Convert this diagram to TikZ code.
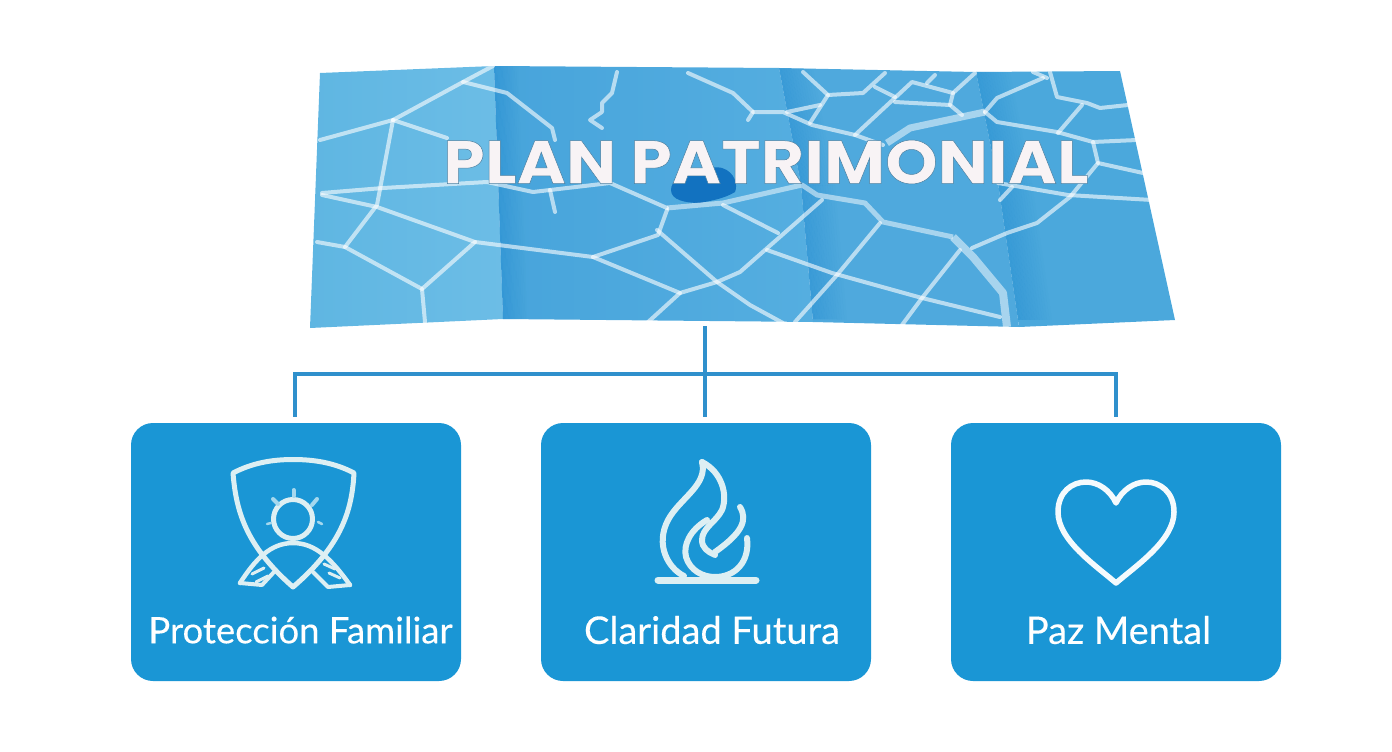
\documentclass[tikz,border=0pt]{standalone}
\usepackage{fontspec}
\setmainfont{Lato}[FakeBold=0.25]
\newfontfamily\titlefont{Poppins}[FakeStretch=1.095]
\definecolor{boxblue}{HTML}{1A96D5}
\definecolor{linkblue}{HTML}{2F90CC}
\definecolor{iconpale}{HTML}{DDEFF3}
\definecolor{raypale}{HTML}{A5D8EE}
\definecolor{blobblue}{HTML}{1272C0}
\definecolor{foldblue}{HTML}{1A86CE}
\definecolor{panelA}{HTML}{5FB6E2}
\definecolor{panelAb}{HTML}{6CBDE6}
\definecolor{panelB}{HTML}{47A4DB}
\definecolor{panelBb}{HTML}{55AEE0}
\definecolor{panelC}{HTML}{4FA9DD}
\definecolor{panelD}{HTML}{4BA8DC}
\definecolor{titlewhite}{HTML}{F8F3F5}
\tikzset{
  cardbox/.style={draw=none,fill=boxblue,rounded corners=22pt,minimum width=330pt,minimum height=258pt,inner sep=0pt},
  cardlabel/.style={text=white,font=\fontsize{36.5}{40}\selectfont,inner sep=0pt},
  cardlabelwide/.style={text=white,font=\fontsize{38}{42}\selectfont,inner sep=0pt},
  connector/.style={draw=linkblue,line width=4pt},
  road/.style={draw=white,draw opacity=.6,line width=4pt,line join=round,line cap=round},
  mainroad/.style={draw=white,draw opacity=.5,line width=7pt,line join=round},
  iconline/.style={draw=iconpale,line width=5pt,line join=round,line cap=round},
  rayline/.style={draw=raypale,line width=4pt,line cap=round},
  flameline/.style={draw=iconpale,line width=6pt,line join=round,line cap=round},
}
\newcommand{\foldshade}[5]{% top x, top y, bottom x, bottom y, width
  \foreach \i in {0,...,13}{
    \pgfmathsetmacro{\aa}{\i*#5/14}
    \pgfmathsetmacro{\bb}{(\i+1)*#5/14}
    \pgfmathsetmacro{\oo}{0.38*(1-\i/14)}
    \fill[foldblue,fill opacity=\oo] (#1+\aa,#2)--(#1+\bb,#2)--(#3+\bb,#4)--(#3+\aa,#4)--cycle;
  }}
\begin{document}
\begin{tikzpicture}[x=1pt,y=-1pt]
\useasboundingbox (0,0) rectangle (1392,752);
% map panels
\shade[left color=panelA,right color=panelAb] (320,73)--(494,66)--(503,319)--(310,328)--cycle;
\shade[left color=panelB,right color=panelBb] (494,66)--(779,68)--(801,185)--(813,322)--(503,319)--cycle;
\fill[panelC] (779,68)--(976,72)--(998,183)--(1019,327)--(813,322)--(801,185)--cycle;
\fill[panelD] (976,72)--(1120,71)--(1175,320)--(1019,327)--(998,183)--cycle;
\begin{scope}
  \clip (494,66)--(1120,71)--(1175,320)--(503,319)--cycle;
  \foldshade{494}{66}{503}{319}{24}
  \foldshade{779}{68}{801}{185}{34}
  \foldshade{801}{185}{813}{322}{34}
  \foldshade{976}{72}{998}{183}{34}
  \foldshade{998}{183}{1019}{327}{34}
\end{scope}
\fill[blobblue] (671,190) .. controls (671,172) and (712,165) .. (722,168) .. controls (735,172) and (738,185) .. (735,192) .. controls (725,198) and (715,200) .. (700,203) .. controls (685,203) and (671,200) .. (671,190) -- cycle;
% roads
\draw[road] (320,140)--(393,120)--(463,82)--(493,66);
\draw[road] (463,82)--(507,93)--(552,128)--(555,140);
\draw[road] (393,120)--(377,205)--(345,247)--(317,242);
\draw[road] (393,120)--(447,138);
\draw[road] (322,193)--(383,188)--(487,182)--(533,192)--(610,183)--(667,208);
\draw[road] (550,190)--(555,212);
\draw[road] (322,195)--(377,207)--(475,242)--(593,257)--(680,293)--(717,282)--(740,272)--(765,250)--(822,200);
\draw[road] (345,247)--(422,289)--(425,322);
\draw[road] (475,242)--(422,289);
\draw[road] (593,257)--(658,235)--(667,210);
\draw[road] (657,230)--(717,282)--(750,305)--(783,323);
\draw[road] (680,293)--(647,323);
\draw[road] (617,72)--(612,93)--(602,103)--(602,112)--(590,120)--(602,128);
\draw[road] (688,73)--(733,93)--(753,112)--(748,120);
\draw[road] (753,112)--(783,112)--(812,125)--(855,135)--(883,145);
\draw[road] (803,72)--(828,95)--(863,93)--(885,73);
\draw[road] (828,95)--(810,123);
\draw[road] (787,112)--(820,105);
\draw[road] (875,87)--(895,97);
\draw[road] (855,135)--(912,82)--(953,93)--(975,73);
\draw[road] (927,83)--(935,75);
\draw[road] (895,102)--(950,105)--(962,115);
\draw[road] (953,93)--(950,105);
\draw[road] (985,112)--(997,98)--(1043,78);
\draw[road] (985,112)--(997,122)--(1057,132)--(1093,142)--(1137,140);
\draw[road] (1033,72)--(1047,78);
\draw[road] (1050,72)--(1057,97)--(1087,103)--(1100,108)--(1128,105);
\draw[road] (1082,105)--(1058,133);
\draw[road] (1093,142)--(1098,163)--(1143,173);
\draw[road] (1098,163)--(1070,197)--(1037,223)--(1007,233)--(972,248);
\draw[road] (998,183)--(1068,195)--(1152,200);
\draw[road] (1012,187)--(1000,200);
\draw[road] (880,223)--(837,275)--(795,322);
\draw[road] (723,205)--(778,233);
\draw[road] (767,250)--(832,273)--(922,298)--(1000,317);
\draw[road] (960,250)--(922,298)--(902,325);
\draw[mainroad,line width=5pt] (667,208)--(723,203)--(802,185)--(817,195)--(865,203)--(883,222)--(953,237);
\draw[mainroad,line width=8pt] (953,237)--(973,257)--(1003,293)--(1007,327);
\draw[mainroad] (887,143)--(910,128)--(985,112);
% title
\node[text=titlewhite,font=\titlefont\bfseries\fontsize{61}{66}\selectfont,inner sep=0pt] (title) at (766,162) {\special{pdf:code 0.3 0.5 0.63 RG 0.5 w 2 Tr}PLAN PATRIMONIAL\special{pdf:code 0 Tr}};
% cards
\node[cardbox] (box1) at (296,552) {};
\node[cardbox] (box2) at (706,552) {};
\node[cardbox] (box3) at (1116,552) {};
\node[cardlabel] (lab1) at (300.5,630) {Protección Familiar};
\node[cardlabelwide] (lab2) at (712,630) {Claridad Futura};
\node[cardlabelwide] (lab3) at (1118.5,630) {Paz Mental};
% connectors
\coordinate (mapfoot) at (705,326);
\coordinate (bus1) at (295,374);
\coordinate (bus2) at (705,374);
\coordinate (bus3) at (1116,374);
\draw[connector] (mapfoot)--(bus2);
\draw[connector,shorten >=6pt] (bus2)--(bus2 |- box2.north);
\draw[connector,shorten >=6pt,shorten <=6pt,line join=miter] (bus1 |- box1.north) -- (bus1) -- (bus3) -- (bus3 |- box3.north);
% shield icon
\draw[iconline] (233,473) .. controls (252,463) and (272,459.5) .. (293,459.5) .. controls (315,459.5) and (335,463) .. (354,473)
  .. controls (352,510) and (342,545) .. (293,587) .. controls (245,545) and (236,510) .. (233,473) -- cycle;
\draw[iconline] (293,519) circle (19.5);
\draw[rayline] (293.5,490)--(293.5,496);
\draw[rayline] (273,499)--(278,504);
\draw[rayline] (317,499)--(312,505);
\draw[rayline,line width=2.5pt] (267,524)--(271,523);
\draw[rayline,line width=2.5pt] (322,524)--(318,522);
\draw[iconline,line width=4.5pt] (240,583) .. controls (255,560) and (270,543) .. (293,543) .. controls (316,543) and (332,560) .. (350,585);
\draw[iconline,line width=4pt] (240,583)--(262,585)--(274,572);
\draw[iconline,line width=4pt] (350,585)--(328,587)--(313,572);
\draw[iconline,line width=3pt] (252,574)--(264,568) (256,582)--(268,576) (335,569)--(324,564) (340,578)--(329,573);
% flame icon
\draw[flameline] (702,462) .. controls (722,472) and (728,495) .. (722,510) .. controls (716,522) and (702,528) .. (702,540) .. controls (702,548) and (708,552) .. (715,555);
\draw[flameline] (702,462) .. controls (708,485) and (680,498) .. (668,520) .. controls (655,545) and (668,568) .. (684,576);
\draw[flameline] (707,520) .. controls (690,530) and (683,545) .. (686,557) .. controls (690,570) and (702,577) .. (715,577) .. controls (735,577) and (750,562) .. (747,538);
\draw[flameline] (740,507) .. controls (748,520) and (742,533) .. (715,552);
\draw[draw=iconpale,line width=7pt,line cap=round] (658,580)--(756,580);
% heart icon
\draw[draw=white!95!boxblue,line width=5.5pt,line join=round] (1116,583) .. controls (1095,565) and (1058,540) .. (1058,512) .. controls (1058,492) and (1072,482) .. (1086,482) .. controls (1098,482) and (1110,490) .. (1116,503) .. controls (1122,490) and (1134,482) .. (1146,482) .. controls (1160,482) and (1174,492) .. (1174,512) .. controls (1174,540) and (1137,565) .. (1116,583) -- cycle;
\end{tikzpicture}
\end{document}
